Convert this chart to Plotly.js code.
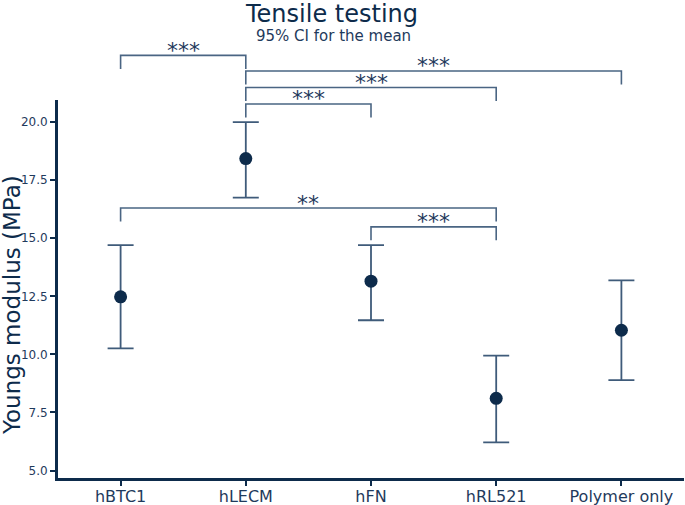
<!DOCTYPE html>
<html>
<head>
<meta charset="utf-8">
<script src="https://cdn.plot.ly/plotly-3.0.1.min.js"></script>
<style>html,body{margin:0;padding:0;background:#fff;}</style>
</head>
<body>
<div id="chart" style="width:685px;height:505px;"></div>
<script>
// ---- data ----
const groups = ["hBTC1", "hLECM", "hFN", "hRL521", "Polymer only"];
const meanModulus = [12.48, 18.43, 13.15, 8.11, 11.04];
const ciUpper = [14.70, 20.00, 14.70, 9.95, 13.19];
const ciLower = [10.26, 16.75, 11.47, 6.21, 8.89];
const yTickVals = [5, 7.5, 10, 12.5, 15, 17.5, 20];

// significance brackets: [fromGroupIndex, toGroupIndex], level (MPa), label
const bracketPairs = [[0, 1], [1, 4], [1, 3], [1, 2], [0, 3], [2, 3]];
const bracketLevels = [22.87, 22.20, 21.49, 20.78, 16.30, 15.49];
const bracketLabels = ["***", "***", "***", "***", "**", "***"];

const titleText = "Tensile testing";
const subtitleText = "95% CI for the mean";
const yTitleText = "Youngs modulus (MPa)";

// ---- styles ----
const navy = "#0d2b4b";
const barColor = "#3f5b7a";
const textColor = "#1f3a5c";
const yRange = [4.68, 20.95];
const legPx = 13.5;
const plotTopPx = 100, plotHeightPx = 378, plotLeftPx = 58, plotWidthPx = 626;
const pxToPaperY = py => (plotTopPx + plotHeightPx - py) / plotHeightPx;
const pxToPaperX = px => (px - plotLeftPx) / plotWidthPx;

const errPlus = meanModulus.map((m, i) => ciUpper[i] - m);
const errMinus = meanModulus.map((m, i) => m - ciLower[i]);

const trace = {
  type: "scatter",
  mode: "markers",
  x: groups,
  y: meanModulus,
  marker: { color: navy, size: 13 },
  error_y: {
    type: "data",
    symmetric: false,
    array: errPlus,
    arrayminus: errMinus,
    color: barColor,
    thickness: 1.8,
    width: 13
  },
  hoverinfo: "x+y",
  showlegend: false
};

const toPaper = v => (v - yRange[0]) / (yRange[1] - yRange[0]);
const legPaper = legPx / plotHeightPx;

const shapes = bracketPairs.map((p, k) => {
  const yl = toPaper(bracketLevels[k]);
  const x1 = p[0], x2 = p[1];
  return {
    type: "path",
    xref: "x", yref: "paper",
    path: `M ${x1},${yl - legPaper} L ${x1},${yl} L ${x2},${yl} L ${x2},${yl - legPaper}`,
    line: { color: "#4a6583", width: 1.6 }
  };
});

const annotations = bracketPairs.map((p, k) => ({
  xref: "x", yref: "paper",
  x: (p[0] + p[1]) / 2,
  y: toPaper(bracketLevels[k]),
  text: bracketLabels[k],
  showarrow: false,
  xanchor: "center", yanchor: "middle",
  yshift: 5,
  font: { family: "DejaVu Sans", size: 22, color: textColor }
}));

annotations.push({
  xref: "paper", yref: "paper",
  x: pxToPaperX(12), y: pxToPaperY(305),
  text: yTitleText,
  textangle: -90,
  showarrow: false,
  xanchor: "center", yanchor: "middle",
  font: { family: "DejaVu Sans", size: 23, color: navy }
});
annotations.push({
  xref: "paper", yref: "paper",
  x: pxToPaperX(331), y: pxToPaperY(13.5),
  text: titleText,
  showarrow: false, borderpad: 0,
  xanchor: "center", yanchor: "middle",
  font: { family: "DejaVu Sans", size: 24, color: navy }
});
annotations.push({
  xref: "paper", yref: "paper",
  x: pxToPaperX(333), y: pxToPaperY(36),
  text: subtitleText,
  showarrow: false, borderpad: 0,
  xanchor: "center", yanchor: "middle",
  font: { family: "DejaVu Sans", size: 15, color: textColor }
});

const layout = {
  width: 685, height: 505,
  margin: { l: plotLeftPx, r: 1, t: plotTopPx, b: 27 },
  paper_bgcolor: "#fff", plot_bgcolor: "#fff",
  font: { family: "DejaVu Sans", color: textColor },
  xaxis: {
    type: "category",
    range: [-0.5, 4.5],
    showline: true, linecolor: navy, linewidth: 3,
    ticks: "outside", ticklen: 5, tickwidth: 2, tickcolor: navy,
    ticklabelstandoff: -3,
    showgrid: false, zeroline: false,
    tickfont: { family: "DejaVu Sans", size: 16, color: textColor },
    fixedrange: true
  },
  yaxis: {
    range: yRange,
    tickvals: yTickVals,
    tickformat: ".1f",
    showline: true, linecolor: navy, linewidth: 3,
    ticks: "outside", ticklen: 5, tickwidth: 2, tickcolor: navy,
    showgrid: false, zeroline: false,
    tickfont: { family: "DejaVu Sans", size: 12, color: textColor },
    fixedrange: true
  },
  shapes: shapes,
  annotations: annotations
};

Plotly.newPlot("chart", [trace], layout, { displayModeBar: false, responsive: false });
</script>
</body>
</html>
